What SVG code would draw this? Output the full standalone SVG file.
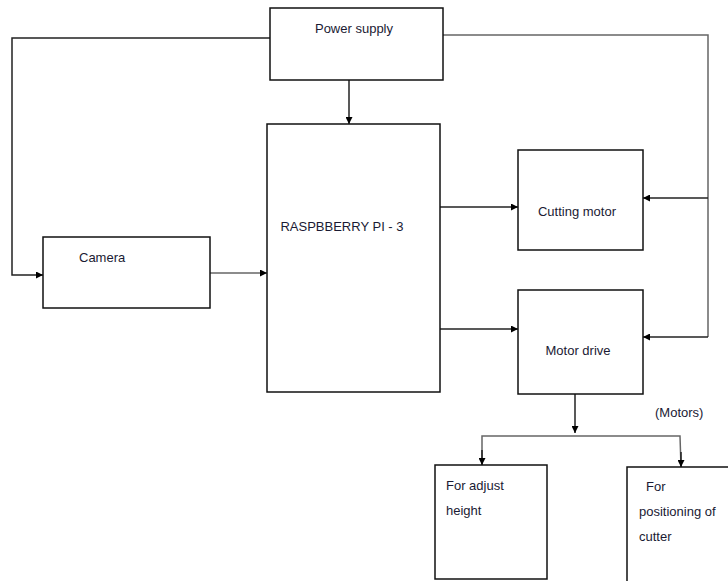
<svg xmlns="http://www.w3.org/2000/svg" width="728" height="581" viewBox="0 0 728 581">
<defs>
<style>
.box{fill:#fff;stroke:#111;stroke-width:1.5}
.ln{fill:none;stroke:#222;stroke-width:1.5}
.lg{fill:none;stroke:#666;stroke-width:1.5}
text{font-family:"Liberation Sans",Arial,sans-serif;font-size:13px;fill:#1a1a33}
</style>
<marker id="ah" viewBox="0 0 10 10" refX="10" refY="5" markerWidth="7" markerHeight="7" orient="auto" markerUnits="userSpaceOnUse">
<path d="M0,0 L10,5 L0,10 z" fill="#000"/>
</marker>
</defs>
<rect width="728" height="581" fill="#fff"/>
<g id="connectors">
<polyline class="ln" points="270,38 12,38 12,275 43,275" marker-end="url(#ah)"/>
<polyline class="lg" points="443,35 708,35 708,337"/>
<line class="ln" x1="708" y1="198" x2="643" y2="198" marker-end="url(#ah)"/>
<line class="ln" x1="708" y1="337" x2="643" y2="337" marker-end="url(#ah)"/>
<line class="ln" x1="349" y1="80" x2="349" y2="124" marker-end="url(#ah)"/>
<line class="lg" x1="210" y1="273" x2="267" y2="273" marker-end="url(#ah)"/>
<line class="ln" x1="440" y1="207" x2="518" y2="207" marker-end="url(#ah)"/>
<line class="ln" x1="440" y1="329" x2="518" y2="329" marker-end="url(#ah)"/>
<line class="ln" x1="575" y1="394" x2="575" y2="433" marker-end="url(#ah)"/>
<polyline class="lg" points="482,465 482,436 680,436 681,467"/>
<line class="ln" x1="482" y1="450" x2="482" y2="465" marker-end="url(#ah)"/>
<line class="ln" x1="681" y1="452" x2="681" y2="467" marker-end="url(#ah)"/>
</g>
<g id="power"><rect class="box" x="270" y="8" width="173" height="72"/><text x="354" y="33" text-anchor="middle">Power supply</text></g>
<g id="rpi"><rect class="box" x="267" y="124" width="173" height="268"/><text x="342" y="231" text-anchor="middle">RASPBBERRY PI - 3</text></g>
<g id="camera"><rect class="box" x="43" y="237" width="167" height="71"/><text x="79" y="262">Camera</text></g>
<g id="cutting"><rect class="box" x="518" y="150" width="125" height="100"/><text x="577" y="216" text-anchor="middle">Cutting motor</text></g>
<g id="motordrive"><rect class="box" x="518" y="290" width="125" height="104"/><text x="578" y="355" text-anchor="middle">Motor drive</text></g>
<text x="655" y="417">(Motors)</text>
<g id="adjust"><rect class="box" x="435" y="465" width="112" height="114"/><text x="446" y="490">For adjust</text><text x="446" y="515">height</text></g>
<g id="positioning"><rect class="box" x="627" y="467" width="110" height="120"/><text x="646" y="491">For</text><text x="639" y="516">positioning of</text><text x="639" y="541">cutter</text></g>
</svg>
